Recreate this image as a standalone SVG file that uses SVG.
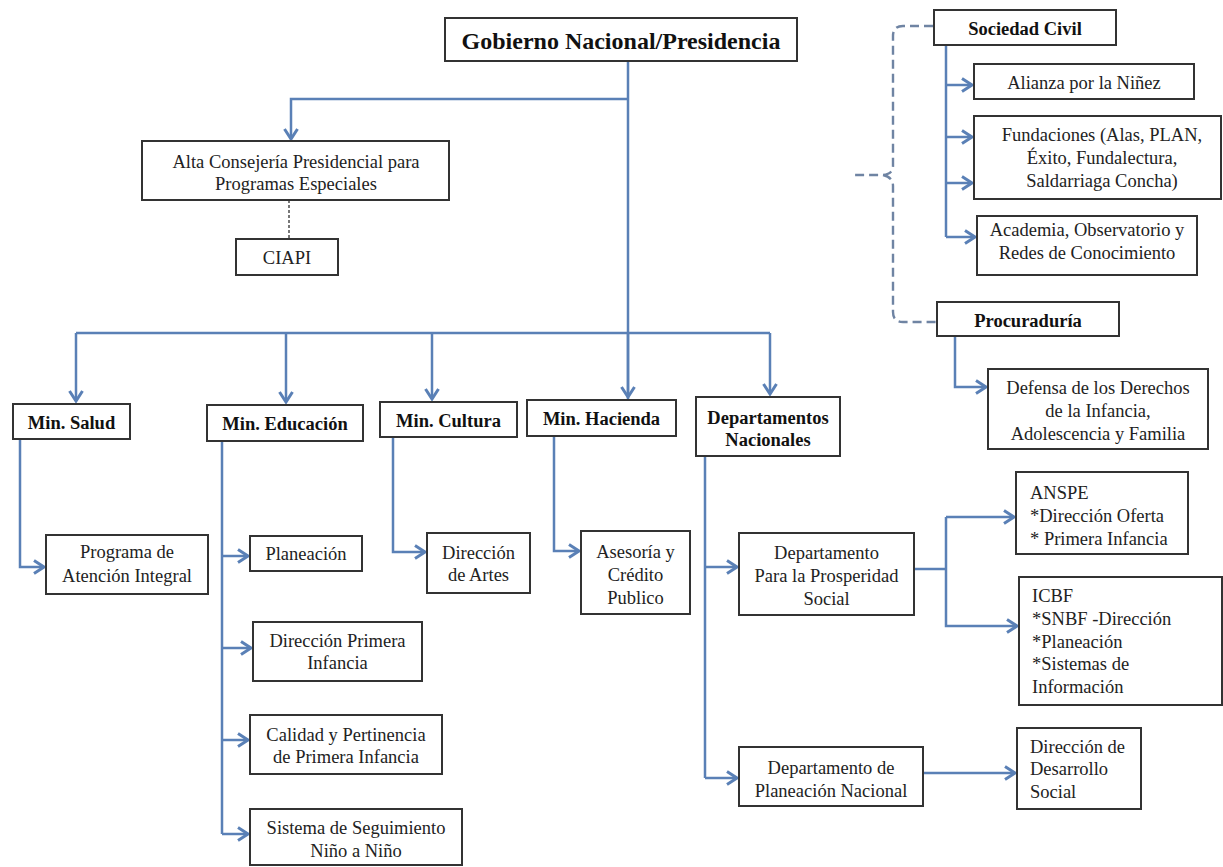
<svg xmlns="http://www.w3.org/2000/svg" width="1223" height="867" viewBox="0 0 1223 867">
<defs>
<marker id="arr" markerUnits="userSpaceOnUse" markerWidth="14" markerHeight="16" viewBox="0 0 14 16" refX="12" refY="8" orient="auto">
<path d="M2,1.5 L12,8 L2,14.5" fill="none" stroke="#5a80b6" stroke-width="3" stroke-linejoin="miter"/>
</marker>
<style>
.box{fill:#fff;stroke:#333;stroke-width:2}
.t{font-family:"Liberation Serif","Times New Roman",serif;font-size:18.5px;fill:#222;text-anchor:middle}
.tl{font-family:"Liberation Serif","Times New Roman",serif;font-size:18.5px;fill:#222}
.b{font-family:"Liberation Serif","Times New Roman",serif;font-size:18.5px;font-weight:bold;fill:#111;text-anchor:middle}
.ln{fill:none;stroke:#5a80b6;stroke-width:2.5}
.la{fill:none;stroke:#5a80b6;stroke-width:2.5;marker-end:url(#arr)}
.dash{fill:none;stroke:#6f84a3;stroke-width:2.4;stroke-dasharray:9,5}
.dot{fill:none;stroke:#777;stroke-width:2;stroke-dasharray:3,2}
</style>
</defs>
<rect width="1223" height="867" fill="#fff"/>

<g id="connectors">
<path class="ln" d="M628,61 V400"/>
<path class="la" d="M628,99 H291 V139"/>
<path class="dot" d="M289,200 V239"/>
<path class="ln" d="M76,333 H770"/>
<path class="la" d="M76,333 V401"/>
<path class="la" d="M286,333 V402"/>
<path class="la" d="M432,333 V399"/>
<path class="la" d="M628,333 V397"/>
<path class="la" d="M770,333 V394"/>
<path class="la" d="M20,439 V567 H44"/>
<path class="ln" d="M222,441 V834"/>
<path class="la" d="M222,556 H248"/>
<path class="la" d="M222,648 H251"/>
<path class="la" d="M222,740 H248"/>
<path class="la" d="M222,834 H248"/>
<path class="la" d="M393,437 V552 H425"/>
<path class="la" d="M554,436 V551 H579"/>
<path class="ln" d="M705,456 V778"/>
<path class="la" d="M705,567 H737"/>
<path class="la" d="M705,778 H737"/>
<path class="ln" d="M914,569 H946"/>
<path class="la" d="M946,517 V626 H1017"/>
<path class="la" d="M946,517 H1014"/>
<path class="la" d="M923,773 H1015"/>
<path class="ln" d="M946,45 V237"/>
<path class="la" d="M946,85 H972"/>
<path class="la" d="M946,137 H972"/>
<path class="la" d="M946,183 H972"/>
<path class="la" d="M946,237 H975"/>
<path class="la" d="M955,336 V387 H986"/>
<path class="dash" d="M933,26 H903 Q893,26 893,36 V166 Q893,174 883,175 H853 M883,175 Q893,177 893,186 V312 Q893,322 903,322 H936"/>
</g>

<g id="n-gobierno"><rect class="box" x="445" y="18" width="352" height="43"/><text class="b" x="621" y="49" style="font-size:24px">Gobierno Nacional/Presidencia</text></g>
<g id="n-alta"><rect class="box" x="142" y="141" width="307" height="59"/><text class="t" x="296" y="168">Alta Consejería Presidencial para</text><text class="t" x="296" y="190">Programas Especiales</text></g>
<g id="n-ciapi"><rect class="box" x="236" y="239" width="102" height="36"/><text class="t" x="287" y="264">CIAPI</text></g>

<g id="n-salud"><rect class="box" x="13" y="404" width="117" height="35"/><text class="b" x="71.5" y="429">Min. Salud</text></g>
<g id="n-educacion"><rect class="box" x="207" y="405" width="156" height="36"/><text class="b" x="285" y="430">Min. Educación</text></g>
<g id="n-cultura"><rect class="box" x="380" y="402" width="137" height="35"/><text class="b" x="448.5" y="427">Min. Cultura</text></g>
<g id="n-hacienda"><rect class="box" x="527" y="400" width="149" height="36"/><text class="b" x="601.5" y="425">Min. Hacienda</text></g>
<g id="n-departamentos"><rect class="box" x="696" y="397" width="144" height="59"/><text class="b" x="768" y="424">Departamentos</text><text class="b" x="768" y="446">Nacionales</text></g>

<g id="n-programa"><rect class="box" x="46" y="535" width="162" height="59"/><text class="t" x="127" y="558">Programa de</text><text class="t" x="127" y="582">Atención Integral</text></g>
<g id="n-planeacion"><rect class="box" x="250" y="536" width="112" height="35"/><text class="t" x="306" y="560">Planeación</text></g>
<g id="n-dpi"><rect class="box" x="253" y="622" width="169" height="59"/><text class="t" x="337.5" y="647">Dirección Primera</text><text class="t" x="337.5" y="669">Infancia</text></g>
<g id="n-calidad"><rect class="box" x="250" y="715" width="192" height="59"/><text class="t" x="346" y="741">Calidad y Pertinencia</text><text class="t" x="346" y="763">de Primera Infancia</text></g>
<g id="n-sistema"><rect class="box" x="250" y="809" width="212" height="56"/><text class="t" x="356" y="834">Sistema de Seguimiento</text><text class="t" x="356" y="857">Niño a Niño</text></g>

<g id="n-artes"><rect class="box" x="427" y="533" width="103" height="60"/><text class="t" x="478.5" y="559">Dirección</text><text class="t" x="478.5" y="581">de Artes</text></g>
<g id="n-asesoria"><rect class="box" x="581" y="531" width="109" height="83"/><text class="t" x="635.5" y="558">Asesoría y</text><text class="t" x="635.5" y="581">Crédito</text><text class="t" x="635.5" y="604">Publico</text></g>

<g id="n-dps"><rect class="box" x="739" y="533" width="175" height="82"/><text class="t" x="826.5" y="559">Departamento</text><text class="t" x="826.5" y="582">Para la Prosperidad</text><text class="t" x="826.5" y="605">Social</text></g>
<g id="n-dpn"><rect class="box" x="739" y="747" width="184" height="59"/><text class="t" x="831" y="774">Departamento de</text><text class="t" x="831" y="797">Planeación Nacional</text></g>

<g id="n-anspe"><rect class="box" x="1016" y="472" width="172" height="82"/><text class="tl" x="1030" y="499">ANSPE</text><text class="tl" x="1030" y="522">*Dirección Oferta</text><text class="tl" x="1030" y="545">* Primera Infancia</text></g>
<g id="n-icbf"><rect class="box" x="1019" y="577" width="203" height="128"/><text class="tl" x="1032" y="602">ICBF</text><text class="tl" x="1032" y="625">*SNBF -Dirección</text><text class="tl" x="1032" y="648">*Planeación</text><text class="tl" x="1032" y="670">*Sistemas de</text><text class="tl" x="1032" y="693">Información</text></g>
<g id="n-dds"><rect class="box" x="1017" y="728" width="124" height="81"/><text class="tl" x="1030" y="753">Dirección de</text><text class="tl" x="1030" y="775">Desarrollo</text><text class="tl" x="1030" y="798">Social</text></g>

<g id="n-sociedad"><rect class="box" x="934" y="10" width="182" height="35"/><text class="b" x="1025" y="35">Sociedad Civil</text></g>
<g id="n-alianza"><rect class="box" x="974" y="64" width="220" height="35"/><text class="t" x="1084" y="89">Alianza por la Niñez</text></g>
<g id="n-fundaciones"><rect class="box" x="974" y="116" width="247" height="83"/><text class="t" x="1102" y="141">Fundaciones (Alas, PLAN,</text><text class="t" x="1102" y="164">Éxito, Fundalectura,</text><text class="t" x="1102" y="187">Saldarriaga Concha)</text></g>
<g id="n-academia"><rect class="box" x="977" y="216" width="220" height="59"/><text class="t" x="1087" y="236">Academia, Observatorio y</text><text class="t" x="1087" y="259">Redes de Conocimiento</text></g>
<g id="n-procuraduria"><rect class="box" x="937" y="302" width="182" height="34"/><text class="b" x="1028" y="327">Procuraduría</text></g>
<g id="n-defensa"><rect class="box" x="988" y="369" width="220" height="80"/><text class="t" x="1098" y="394">Defensa de los Derechos</text><text class="t" x="1098" y="417">de la Infancia,</text><text class="t" x="1098" y="440">Adolescencia y Familia</text></g>
</svg>
